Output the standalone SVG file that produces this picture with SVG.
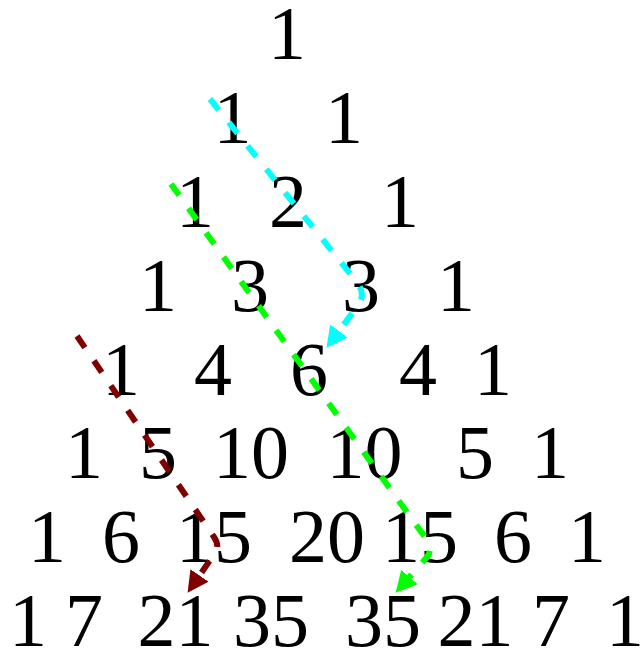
<svg xmlns="http://www.w3.org/2000/svg" width="641" height="651" viewBox="0 0 641 651">
<style>
text{font-family:"Liberation Serif","Times New Roman",serif;font-size:76px;fill:#000;text-anchor:middle}
.e{fill:none;stroke-width:6;stroke-dasharray:14,16}
</style>
<defs>
<marker id="ac" viewBox="0 0 21 22" refX="0" refY="11" markerWidth="21" markerHeight="22" markerUnits="userSpaceOnUse" orient="auto"><path d="M0,0L21,11L0,22z" fill="#00ffff"/></marker>
<marker id="ag" viewBox="0 0 21 22" refX="0" refY="11" markerWidth="21" markerHeight="22" markerUnits="userSpaceOnUse" orient="auto"><path d="M0,0L21,11L0,22z" fill="#00ff00"/></marker>
<marker id="ar" viewBox="0 0 21 22" refX="0" refY="11" markerWidth="21" markerHeight="22" markerUnits="userSpaceOnUse" orient="auto"><path d="M0,0L21,11L0,22z" fill="#800000"/></marker>
</defs>
<rect width="641" height="651" fill="#fff"/>
<g id="nodes">
<g id="r0c0"><text x="287" y="59">1</text></g>
<g id="r1c0"><text x="232.5" y="143">1</text></g>
<g id="r1c1"><text x="344" y="143">1</text></g>
<g id="r2c0"><text x="195" y="227">1</text></g>
<g id="r2c1"><text x="288" y="227">2</text></g>
<g id="r2c2"><text x="400" y="227">1</text></g>
<g id="r3c0"><text x="158" y="311">1</text></g>
<g id="r3c1"><text x="250" y="311">3</text></g>
<g id="r3c2"><text x="361" y="311">3</text></g>
<g id="r3c3"><text x="456" y="311">1</text></g>
<g id="r4c0"><text x="121" y="395">1</text></g>
<g id="r4c1"><text x="213" y="395">4</text></g>
<g id="r4c2"><text x="309" y="395">6</text></g>
<g id="r4c3"><text x="418" y="395">4</text></g>
<g id="r4c4"><text x="493" y="395">1</text></g>
<g id="r5c0"><text x="84" y="478">1</text></g>
<g id="r5c1"><text x="158" y="478">5</text></g>
<g id="r5c2"><text x="251" y="478">10</text></g>
<g id="r5c3"><text x="364.5" y="478">10</text></g>
<g id="r5c4"><text x="475" y="478">5</text></g>
<g id="r5c5"><text x="550" y="478">1</text></g>
<g id="r6c0"><text x="47" y="562">1</text></g>
<g id="r6c1"><text x="121" y="562">6</text></g>
<g id="r6c2"><text x="214" y="562">15</text></g>
<g id="r6c3"><text x="327" y="562">20</text></g>
<g id="r6c4"><text x="420" y="562">15</text></g>
<g id="r6c5"><text x="513" y="562">6</text></g>
<g id="r6c6"><text x="587" y="562">1</text></g>
<g id="r7c0"><text x="28" y="646">1</text></g>
<g id="r7c1"><text x="84" y="646">7</text></g>
<g id="r7c2"><text x="175.5" y="646">21</text></g>
<g id="r7c3"><text x="271" y="646">35</text></g>
<g id="r7c4"><text x="383" y="646">35</text></g>
<g id="r7c5"><text x="475.5" y="646">21</text></g>
<g id="r7c6"><text x="551" y="646">7</text></g>
<g id="r7c7"><text x="625" y="646">1</text></g>
</g>
<g id="connectors">
<path class="e" stroke="#00ffff" marker-end="url(#ac)" d="M210,99 L356,281 Q366,293 359,304 L339,331"/>
<path class="e" stroke="#00ff00" marker-end="url(#ag)" d="M171,184 L427,540 Q433,549 427,557 L409.5,577"/>
<path class="e" stroke="#800000" marker-end="url(#ar)" d="M77,336 L214,537 Q220,546 215,553 L199.5,575.5"/>
</g>
</svg>
